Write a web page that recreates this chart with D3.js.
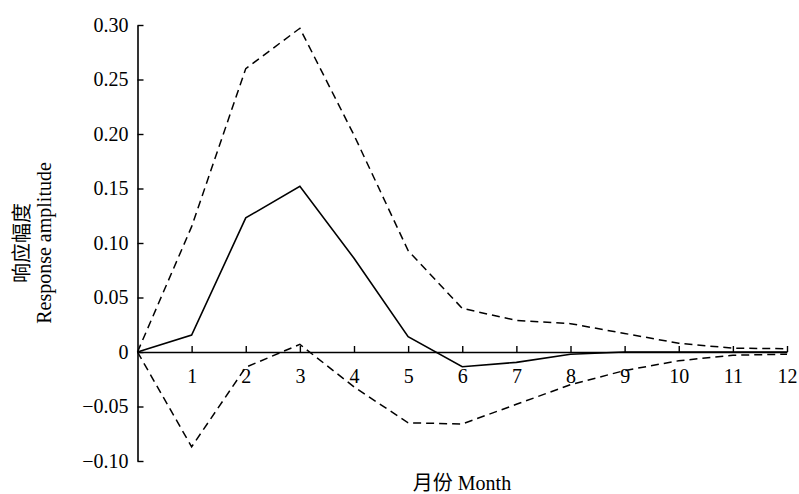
<!DOCTYPE html>
<html>
<head>
<meta charset="utf-8">
<script src="https://cdn.jsdelivr.net/npm/d3@7"></script>
<style>
  html, body { margin: 0; padding: 0; background: #fff; }
</style>
</head>
<body>
<svg id="chart" width="799" height="494"></svg>
<script>
// ---- data ----
const months = [0, 1, 2, 3, 4, 5, 6, 7, 8, 9, 10, 11, 12];
const response = [0, 0.0155, 0.123, 0.152, 0.086, 0.014, -0.0135, -0.0095, -0.002, 0, 0, 0, 0];
const upperBand = [0, 0.115, 0.260, 0.297, 0.199, 0.093, 0.040, 0.029, 0.026, 0.017, 0.008, 0.0035, 0.003];
const lowerBand = [0, -0.087, -0.014, 0.007, -0.032, -0.065, -0.066, -0.048, -0.030, -0.017, -0.008, -0.003, -0.002];
const xTicks = [1, 2, 3, 4, 5, 6, 7, 8, 9, 10, 11, 12];
const yTicks = [-0.10, -0.05, 0, 0.05, 0.10, 0.15, 0.20, 0.25, 0.30];
const xTitle = "月份 Month";
const yTitleCn = "响应幅度";
const yTitleEn = "Response amplitude";

// ---- layout ----
const FONT = "'Liberation Serif', 'Times New Roman', 'Noto Sans CJK SC', serif";
const svg = d3.select("#chart");
const x = d3.scaleLinear().domain([0, 12]).range([137.5, 787]);
const y = d3.scaleLinear().domain([-0.10, 0.30]).range([461, 25]);

const fmt = v => v === 0 ? "0" : (v < 0 ? "\u2212" + Math.abs(v).toFixed(2) : v.toFixed(2));

// y axis
const yAxis = d3.axisLeft(y).tickValues(yTicks).tickFormat(fmt)
  .tickSizeInner(-6).tickSizeOuter(0).tickPadding(9);
const gy = svg.append("g").attr("transform", `translate(${x(0)},0)`).call(yAxis)
  .attr("font-family", FONT).attr("font-size", 20);
gy.selectAll("text").attr("fill", "#000");
gy.select(".domain").attr("stroke", "#000").attr("stroke-width", 1.6);
gy.selectAll(".tick line").attr("stroke", "#000").attr("stroke-width", 1.4);

// x axis at y = 0
const xAxis = d3.axisBottom(x).tickValues(xTicks).tickFormat(d3.format("d"))
  .tickSizeInner(-6).tickSizeOuter(0).tickPadding(17);
const gx = svg.append("g").attr("transform", `translate(0,${y(0)})`).call(xAxis)
  .attr("font-family", FONT).attr("font-size", 20);
gx.selectAll("text").attr("fill", "#000");
gx.select(".domain").attr("stroke", "#000").attr("stroke-width", 1.6);
gx.selectAll(".tick line").attr("stroke", "#000").attr("stroke-width", 1.4);

// lines
const line = d3.line().x((d, i) => x(months[i])).y(d => y(d));
svg.append("path").datum(upperBand).attr("d", line)
  .attr("fill", "none").attr("stroke", "#000").attr("stroke-width", 1.5)
  .attr("stroke-dasharray", "8,5");
svg.append("path").datum(lowerBand).attr("d", line)
  .attr("fill", "none").attr("stroke", "#000").attr("stroke-width", 1.5)
  .attr("stroke-dasharray", "8,5");
svg.append("path").datum(response).attr("d", line)
  .attr("fill", "none").attr("stroke", "#000").attr("stroke-width", 1.6);

// titles
svg.append("text").attr("transform", "translate(29,243) rotate(-90)")
  .attr("text-anchor", "middle").attr("font-size", 20).attr("fill", "#000")
  .attr("font-family", "'Noto Sans CJK SC', serif")
  .text(yTitleCn);
svg.append("text").attr("transform", "translate(51,243) rotate(-90)")
  .attr("text-anchor", "middle").attr("font-size", 20).attr("fill", "#000")
  .attr("font-family", FONT)
  .text(yTitleEn);
svg.append("text").attr("x", 462).attr("y", 490)
  .attr("text-anchor", "middle").attr("font-size", 20).attr("fill", "#000")
  .attr("font-family", FONT)
  .text(xTitle);
</script>
</body>
</html>
